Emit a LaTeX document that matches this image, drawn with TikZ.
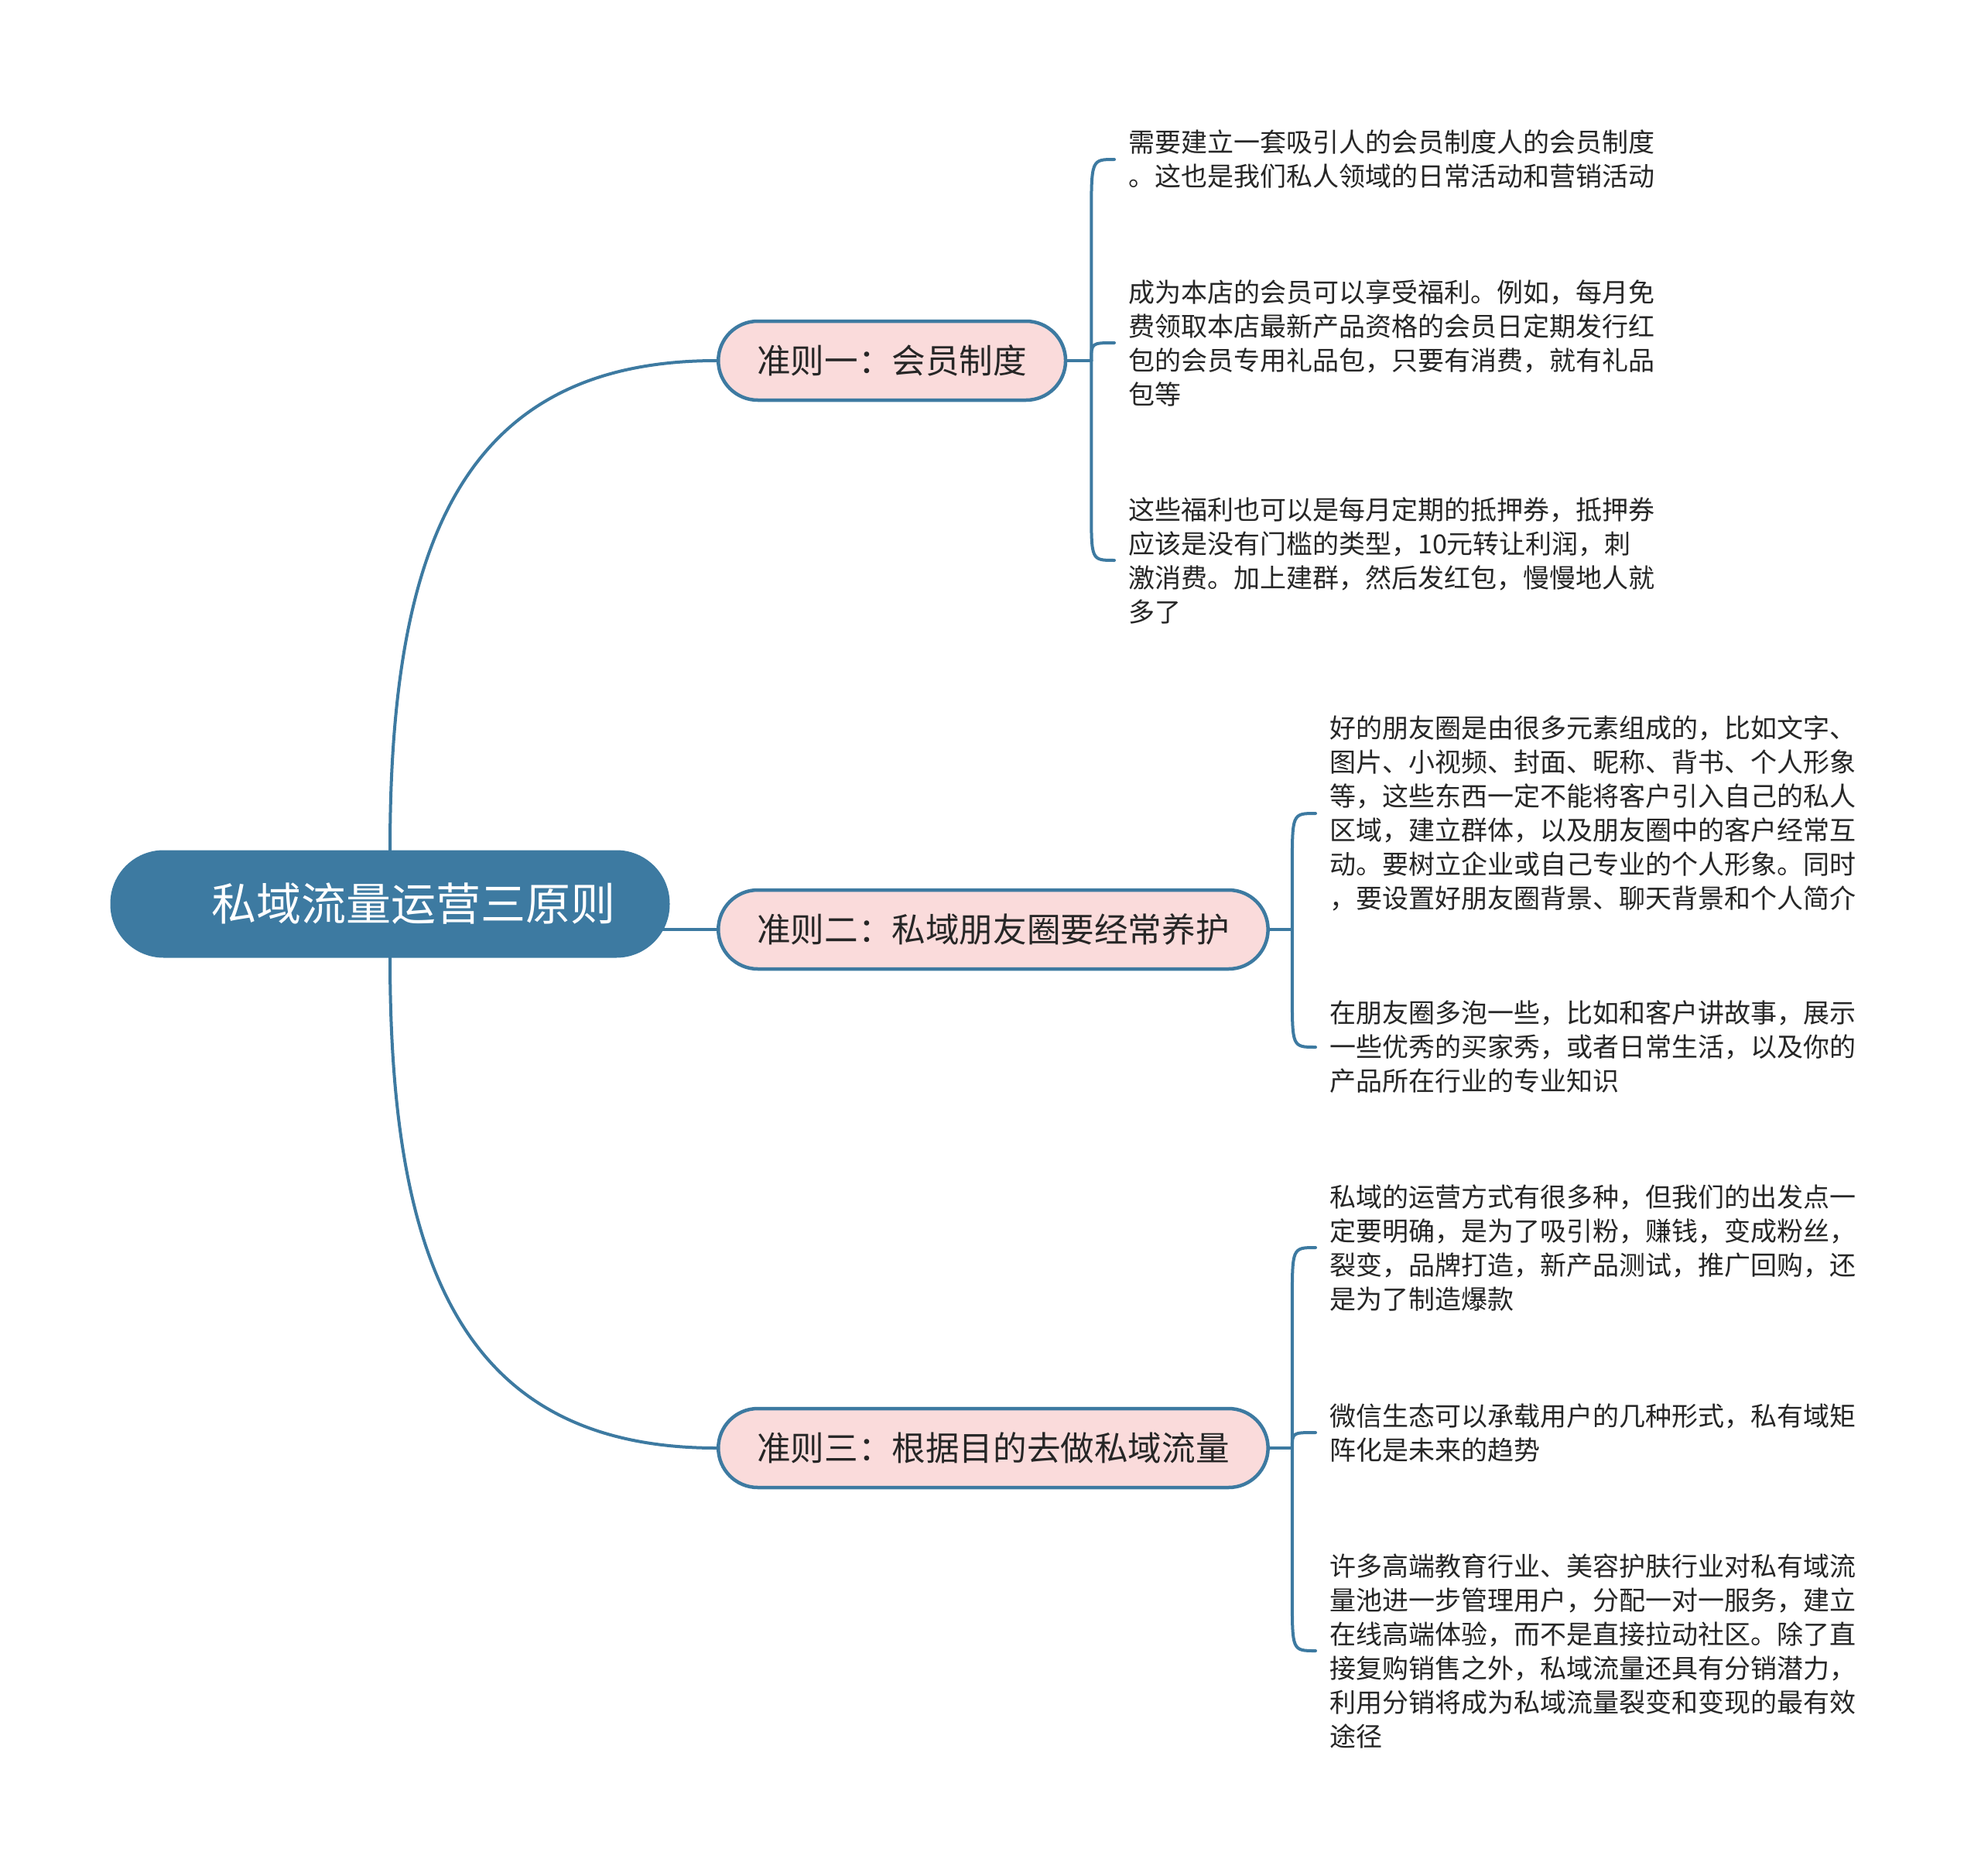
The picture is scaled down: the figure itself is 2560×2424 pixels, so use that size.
\documentclass[tikz,border=0pt]{standalone}
\usepackage{fontspec}
\setmainfont{Noto Sans CJK SC}
\usepackage{tikz}
\usetikzlibrary{positioning, calc, backgrounds}
\definecolor{linkblue}{HTML}{3D7AA1}
\definecolor{rosefill}{HTML}{FADBDB}
\definecolor{ink}{HTML}{262626}

\begin{document}
\begin{tikzpicture}[x=1pt, y=-1pt,
    link/.style={draw=linkblue, line width=4pt, line cap=round, line join=round},
    rootbox/.style={fill=linkblue, text=white, minimum width=723pt, minimum height=139pt,
      rounded corners=69pt, inner sep=0pt, font=\fontsize{58}{70}\selectfont},
    rulebox/.style={draw=linkblue, line width=4.5pt, fill=rosefill, text=ink, anchor=west,
      minimum height=102pt, rounded corners=51pt, inner xsep=50pt, inner ysep=0pt,
      font=\fontsize{43.6}{52}\selectfont},
    leaf/.style={anchor=west, align=left, inner xsep=18pt, inner ysep=0pt, text=ink,
      font=\fontsize{34}{44}\selectfont}]
    \useasboundingbox (0,0) rectangle (2560,2424);

    % centre and the three rules
    \node[rootbox] (root) at (504,1168) {\hspace*{60pt}私域流量运营三原则};
    \node[rulebox] (r1) at (926,466) {准则一：会员制度};
    \node[rulebox] (r2) at (926,1201) {准则二：私域朋友圈要经常养护};
    \node[rulebox] (r3) at (926,1871) {准则三：根据目的去做私域流量};

    % notes
    \node[leaf] (n11) at (1440,206) {需要建立一套吸引人的会员制度人的会员制度\\。这也是我们私人领域的日常活动和营销活动};
    \node[leaf] (n12) at (1440,443) {成为本店的会员可以享受福利。例如，每月免\\费领取本店最新产品资格的会员日定期发行红\\包的会员专用礼品包，只要有消费，就有礼品\\包等};
    \node[leaf] (n13) at (1440,724) {这些福利也可以是每月定期的抵押券，抵押券\\应该是没有门槛的类型，10元转让利润，刺\\激消费。加上建群，然后发红包，慢慢地人就\\多了};

    \node[leaf] (n21) at (1700,1051) {好的朋友圈是由很多元素组成的，比如文字、\\图片、小视频、封面、昵称、背书、个人形象\\等，这些东西一定不能将客户引入自己的私人\\区域，建立群体，以及朋友圈中的客户经常互\\动。要树立企业或自己专业的个人形象。同时\\，要设置好朋友圈背景、聊天背景和个人简介};
    \node[leaf] (n22) at (1700,1353) {在朋友圈多泡一些，比如和客户讲故事，展示\\一些优秀的买家秀，或者日常生活，以及你的\\产品所在行业的专业知识};

    \node[leaf] (n31) at (1700,1612) {私域的运营方式有很多种，但我们的出发点一\\定要明确，是为了吸引粉，赚钱，变成粉丝，\\裂变，品牌打造，新产品测试，推广回购，还\\是为了制造爆款};
    \node[leaf] (n32) at (1700,1851) {微信生态可以承载用户的几种形式，私有域矩\\阵化是未来的趋势};
    \node[leaf] (n33) at (1700,2133) {许多高端教育行业、美容护肤行业对私有域流\\量池进一步管理用户，分配一对一服务，建立\\在线高端体验，而不是直接拉动社区。除了直\\接复购销售之外，私域流量还具有分销潜力，\\利用分销将成为私域流量裂变和变现的最有效\\途径};

    \coordinate (j1) at ([xshift=31pt]r1.east);
    \coordinate (j2) at ([xshift=29pt]r2.east);
    \coordinate (j3) at ([xshift=29pt]r3.east);

    \begin{scope}[on background layer]
      \fill[white] (0,0) rectangle (2560,2424);
      % trunk
      \draw[link] (root.north) .. controls +(0,-400) and +(-326,0) .. (r1.west);
      \draw[link] (root.center |- r2.west) -- (r2.west);
      \draw[link] (root.south) .. controls +(0,400) and +(-326,0) .. (r3.west);
      % braces
      \draw[link] (r1.east) -- (j1);
      \draw[link] (j1) -- ($(j1 |- n11.west)+(0,75)$) .. controls (j1 |- n11.west) .. (n11.west);
      \draw[link] (j1) .. controls (j1 |- n12.west) .. (n12.west);
      \draw[link] (j1) -- ($(j1 |- n13.west)+(0,-65)$) .. controls (j1 |- n13.west) .. (n13.west);
      \draw[link] (r2.east) -- (j2);
      \draw[link] (j2) -- ($(j2 |- n21.west)+(0,70)$) .. controls (j2 |- n21.west) .. (n21.west);
      \draw[link] (j2) -- ($(j2 |- n22.west)+(0,-70)$) .. controls (j2 |- n22.west) .. (n22.west);
      \draw[link] (r3.east) -- (j3);
      \draw[link] (j3) -- ($(j3 |- n31.west)+(0,70)$) .. controls (j3 |- n31.west) .. (n31.west);
      \draw[link] (j3) .. controls (j3 |- n32.west) .. (n32.west);
      \draw[link] (j3) -- ($(j3 |- n33.west)+(0,-70)$) .. controls (j3 |- n33.west) .. (n33.west);
    \end{scope}
  \end{tikzpicture}
\end{document}
